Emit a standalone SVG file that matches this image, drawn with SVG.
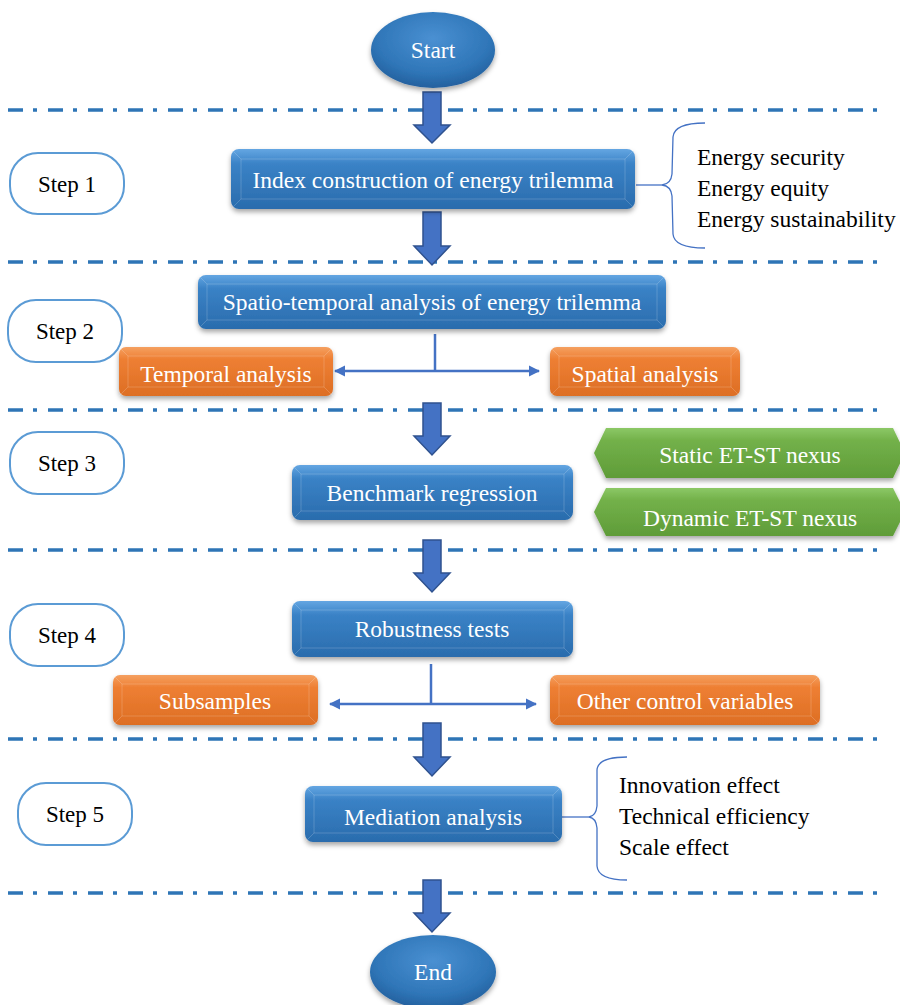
<svg xmlns="http://www.w3.org/2000/svg" width="900" height="1005" viewBox="0 0 900 1005">
<defs>
<linearGradient id="gBlue" x1="0" y1="0" x2="0" y2="1">
<stop offset="0" stop-color="#64A6E2"/><stop offset="0.25" stop-color="#3A82C6"/><stop offset="1" stop-color="#2A6CAD"/>
</linearGradient>
<linearGradient id="gOrange" x1="0" y1="0" x2="0" y2="1">
<stop offset="0" stop-color="#F5A060"/><stop offset="0.25" stop-color="#EE7F33"/><stop offset="1" stop-color="#DD6E24"/>
</linearGradient>
<linearGradient id="gGreen" x1="0" y1="0" x2="0" y2="1">
<stop offset="0" stop-color="#8CC866"/><stop offset="0.25" stop-color="#73B14A"/><stop offset="1" stop-color="#5F9C38"/>
</linearGradient>
<radialGradient id="gEll" cx="0.5" cy="0.35" r="0.65">
<stop offset="0" stop-color="#4A90D2"/><stop offset="0.7" stop-color="#2F76B8"/><stop offset="1" stop-color="#24609E"/>
</radialGradient>
<filter id="sh" x="-10%" y="-20%" width="120%" height="150%">
<feDropShadow dx="0" dy="3" stdDeviation="2.5" flood-color="#000" flood-opacity="0.35"/>
</filter>
<marker id="ah" viewBox="0 0 10 10" refX="9" refY="5" markerWidth="4.5" markerHeight="4.5" orient="auto-start-reverse">
<path d="M0,0 L10,5 L0,10 z" fill="#4472C4"/>
</marker>
<style>
.sep{stroke:#2E75B6;stroke-width:3.5;stroke-dasharray:15 10 4 11;fill:none}
.blk{fill:#4472C4;stroke:#2F528F;stroke-width:1.5}
.step{fill:#fff;stroke:#5B9BD5;stroke-width:2}
.st{font-family:"Liberation Serif","Times New Roman",serif;font-size:23px;fill:#000;text-anchor:middle}
.wt{font-family:"Liberation Serif","Times New Roman",serif;font-size:23.5px;fill:#fff;text-anchor:middle}
.bt{font-family:"Liberation Serif","Times New Roman",serif;font-size:23.5px;fill:#000}
.bl{fill:url(#gBlue);filter:url(#sh)}
.or{fill:url(#gOrange);filter:url(#sh)}
.gr{fill:url(#gGreen);filter:url(#sh)}
.bev{fill:none;stroke:#fff;stroke-opacity:0.18;stroke-width:1}
.con{stroke:#4472C4;stroke-width:2.5;fill:none}
.brace{stroke:#4472C4;stroke-width:1.3;fill:none}
</style>
</defs>

<g id="separators">
<line class="sep" x1="8" y1="110" x2="882" y2="110"/>
<line class="sep" x1="8" y1="262" x2="882" y2="262"/>
<line class="sep" x1="8" y1="410" x2="882" y2="410"/>
<line class="sep" x1="8" y1="550" x2="882" y2="550"/>
<line class="sep" x1="8" y1="739" x2="882" y2="739"/>
<line class="sep" x1="8" y1="893" x2="882" y2="893"/>
</g>

<g id="connectors">
<path class="blk" d="M423,92 L441,92 L441,125 L450,125 L432,143 L414,125 L423,125 z"/>
<path class="blk" d="M423,212 L441,212 L441,246 L450,246 L432,265 L414,246 L423,246 z"/>
<path class="blk" d="M423,403 L441,403 L441,436 L450,436 L432,455 L414,436 L423,436 z"/>
<path class="blk" d="M423,540 L441,540 L441,573 L450,573 L432,592 L414,573 L423,573 z"/>
<path class="blk" d="M423,723 L441,723 L441,757 L450,757 L432,776 L414,757 L423,757 z"/>
<path class="blk" d="M423,880 L441,880 L441,913 L450,913 L432,932 L414,913 L423,913 z"/>
<line class="con" x1="435" y1="334" x2="435" y2="371"/>
<line class="con" x1="435" y1="371" x2="335" y2="371" marker-end="url(#ah)"/>
<line class="con" x1="435" y1="371" x2="539" y2="371" marker-end="url(#ah)"/>
<line class="con" x1="431" y1="664" x2="431" y2="704"/>
<line class="con" x1="431" y1="704" x2="330" y2="704" marker-end="url(#ah)"/>
<line class="con" x1="431" y1="704" x2="536" y2="704" marker-end="url(#ah)"/>
<path class="brace" d="M636,185 L662,185"/>
<path class="brace" d="M705,123 Q674,123 673,137 L672,174 Q671,184 662,185 Q671,186 672,196 L673,234 Q674,248 705,248"/>
<path class="brace" d="M562,817 L589,817"/>
<path class="brace" d="M627,757 Q598,757 597,770 L597,806 Q596,816 589,817 Q596,818 597,828 L597,866 Q598,880 627,880"/>
</g>

<g id="start">
<ellipse cx="433" cy="50" rx="62" ry="38" fill="url(#gEll)" filter="url(#sh)"/>
<text class="wt" x="433" y="58">Start</text>
</g>
<g id="end">
<ellipse cx="433" cy="972" rx="63" ry="37" fill="url(#gEll)" filter="url(#sh)"/>
<text class="wt" x="433" y="980">End</text>
</g>

<g id="step1"><rect class="step" x="10" y="153" width="114" height="61" rx="28"/><text class="st" x="67" y="192">Step 1</text></g>
<g id="step2"><rect class="step" x="8" y="300" width="114" height="62" rx="28"/><text class="st" x="65" y="339">Step 2</text></g>
<g id="step3"><rect class="step" x="10" y="432" width="114" height="62" rx="28"/><text class="st" x="67" y="471">Step 3</text></g>
<g id="step4"><rect class="step" x="10" y="604" width="114" height="62" rx="28"/><text class="st" x="67" y="643">Step 4</text></g>
<g id="step5"><rect class="step" x="18" y="783" width="114" height="62" rx="28"/><text class="st" x="75" y="822">Step 5</text></g>

<g id="index">
<rect class="bl" x="231" y="149" width="404" height="60" rx="8"/>
<path class="bev" d="M231,149 L241,159 L625,159 L635,149 M241,159 L241,199 L231,209 M625,159 L625,199 L635,209 M241,199 L625,199"/>
<text class="wt" x="433" y="188">Index construction of energy trilemma</text>
</g>
<g id="trilemma-items">
<text class="bt" x="697" y="165">Energy security</text>
<text class="bt" x="697" y="196">Energy equity</text>
<text class="bt" x="697" y="227">Energy sustainability</text>
</g>

<g id="spatiotemporal">
<rect class="bl" x="198" y="275" width="468" height="54" rx="8"/>
<path class="bev" d="M198,275 L207,284 L657,284 L666,275 M207,284 L207,320 L198,329 M657,284 L657,320 L666,329 M207,320 L657,320"/>
<text class="wt" x="432" y="310">Spatio-temporal analysis of energy trilemma</text>
</g>
<g id="temporal">
<rect class="or" x="119" y="347" width="214" height="49" rx="7"/>
<path class="bev" d="M119,347 L128,356 L324,356 L333,347 M128,356 L128,387 L119,396 M324,356 L324,387 L333,396 M128,387 L324,387"/>
<text class="wt" x="226" y="382">Temporal analysis</text>
</g>
<g id="spatial">
<rect class="or" x="550" y="347" width="190" height="49" rx="7"/>
<path class="bev" d="M550,347 L559,356 L731,356 L740,347 M559,356 L559,387 L550,396 M731,356 L731,387 L740,396 M559,387 L731,387"/>
<text class="wt" x="645" y="382">Spatial analysis</text>
</g>

<g id="benchmark">
<rect class="bl" x="292" y="465" width="281" height="55" rx="8"/>
<path class="bev" d="M292,465 L301,474 L564,474 L573,465 M301,474 L301,511 L292,520 M564,474 L564,511 L573,520 M301,511 L564,511"/>
<text class="wt" x="432" y="501">Benchmark regression</text>
</g>
<g id="static">
<path class="gr" d="M594,453 L606,428 L893,428 L905,453 L893,478 L606,478 z"/>
<text class="wt" x="750" y="463">Static ET-ST nexus</text>
</g>
<g id="dynamic">
<path class="gr" d="M594,512 L606,488 L893,488 L905,512 L893,536 L606,536 z"/>
<text class="wt" x="750" y="526">Dynamic ET-ST nexus</text>
</g>

<g id="robustness">
<rect class="bl" x="292" y="601" width="281" height="56" rx="8"/>
<path class="bev" d="M292,601 L301,610 L564,610 L573,601 M301,610 L301,648 L292,657 M564,610 L564,648 L573,657 M301,648 L564,648"/>
<text class="wt" x="432" y="637">Robustness tests</text>
</g>
<g id="subsamples">
<rect class="or" x="113" y="675" width="205" height="50" rx="7"/>
<path class="bev" d="M113,675 L122,684 L309,684 L318,675 M122,684 L122,716 L113,725 M309,684 L309,716 L318,725 M122,716 L309,716"/>
<text class="wt" x="215" y="709">Subsamples</text>
</g>
<g id="othercontrols">
<rect class="or" x="550" y="675" width="270" height="50" rx="7"/>
<path class="bev" d="M550,675 L559,684 L811,684 L820,675 M559,684 L559,716 L550,725 M811,684 L811,716 L820,725 M559,716 L811,716"/>
<text class="wt" x="685" y="709">Other control variables</text>
</g>

<g id="mediation">
<rect class="bl" x="305" y="786" width="257" height="56" rx="8"/>
<path class="bev" d="M305,786 L314,795 L553,795 L562,786 M314,795 L314,833 L305,842 M553,795 L553,833 L562,842 M314,833 L553,833"/>
<text class="wt" x="433" y="825">Mediation analysis</text>
</g>
<g id="mediation-items">
<text class="bt" x="619" y="793">Innovation effect</text>
<text class="bt" x="619" y="824">Technical efficiency</text>
<text class="bt" x="619" y="855">Scale effect</text>
</g>
</svg>
